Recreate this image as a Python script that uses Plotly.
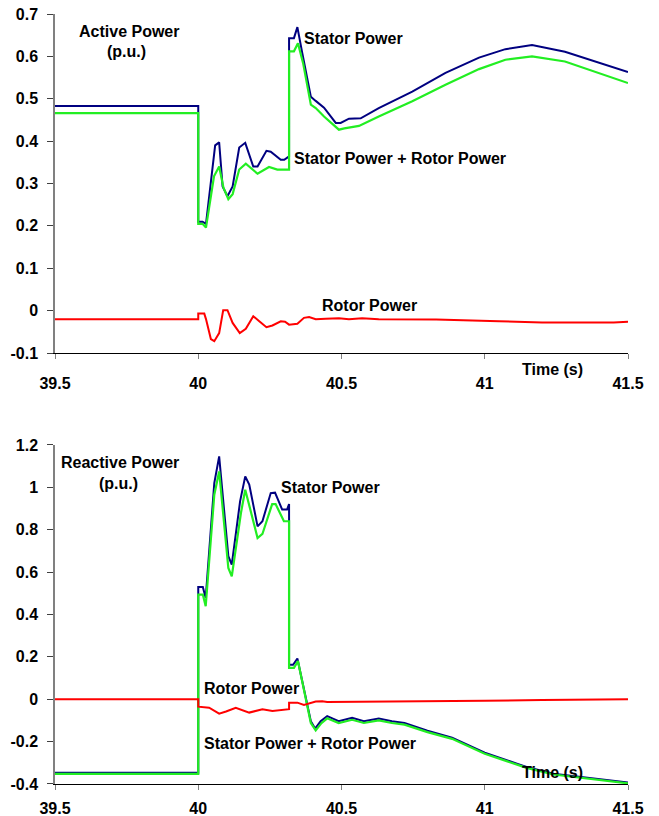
import plotly.graph_objects as go

# ---------------- data: Active power (top) ----------------
t_act_stator = [39.5, 40.0, 40.0, 40.015, 40.027, 40.059, 40.073, 40.085, 40.102, 40.12, 40.143, 40.164,
                40.192, 40.207, 40.238, 40.253, 40.288, 40.30, 40.317, 40.317, 40.334, 40.346, 40.363,
                40.393, 40.41, 40.439, 40.48, 40.497, 40.526, 40.567, 40.63, 40.747, 40.863, 40.98,
                41.072, 41.165, 41.28, 41.386, 41.5]
p_act_stator = [0.483, 0.483, 0.21, 0.21, 0.205, 0.39, 0.397, 0.293, 0.27, 0.293, 0.385, 0.396,
                0.34, 0.34, 0.377, 0.375, 0.356, 0.356, 0.364, 0.643, 0.643, 0.669, 0.608,
                0.505, 0.495, 0.479, 0.443, 0.443, 0.453, 0.454, 0.478, 0.517, 0.561, 0.597,
                0.617, 0.627, 0.611, 0.588, 0.563]

t_act_total = [39.5, 40.0, 40.0, 40.015, 40.027, 40.055, 40.073, 40.088, 40.105, 40.12, 40.143, 40.166,
               40.207, 40.247, 40.276, 40.317, 40.317, 40.334, 40.348, 40.366, 40.393, 40.41, 40.439,
               40.491, 40.51, 40.561, 40.63, 40.747, 40.863, 40.98, 41.072, 41.165, 41.28, 41.386, 41.5]
p_act_total = [0.466, 0.466, 0.205, 0.205, 0.196, 0.317, 0.34, 0.29, 0.263, 0.275, 0.333, 0.347,
               0.323, 0.339, 0.333, 0.333, 0.612, 0.612, 0.631, 0.584, 0.486, 0.478, 0.458,
               0.427, 0.43, 0.436, 0.458, 0.494, 0.533, 0.57, 0.592, 0.6, 0.588, 0.564, 0.537]

t_act_rotor = [39.5, 40.0, 40.0, 40.021, 40.027, 40.044, 40.056, 40.073, 40.087, 40.102, 40.12, 40.145,
               40.166, 40.192, 40.213, 40.238, 40.259, 40.288, 40.303, 40.317, 40.346, 40.369, 40.387,
               40.41, 40.445, 40.491, 40.526, 40.572, 40.63, 40.83, 41.05, 41.2, 41.45, 41.5]
p_act_rotor = [-0.02, -0.02, -0.007, -0.007, -0.02, -0.067, -0.072, -0.053, 0.001, 0.001, -0.029, -0.053,
               -0.043, -0.013, -0.025, -0.039, -0.035, -0.025, -0.026, -0.033, -0.031, -0.017, -0.015,
               -0.02, -0.019, -0.018, -0.02, -0.018, -0.02, -0.021, -0.025, -0.028, -0.028, -0.026]

# ---------------- data: Reactive power (bottom) ----------------
t_rea_stator = [39.5, 40.0, 40.0, 40.016, 40.026, 40.056, 40.073, 40.105, 40.117, 40.146, 40.164, 40.178,
                40.207, 40.224, 40.253, 40.268, 40.293, 40.31, 40.317, 40.317, 40.331, 40.346, 40.393,
                40.408, 40.427, 40.45, 40.49, 40.537, 40.578, 40.63, 40.676, 40.72, 40.8, 40.886,
                41.0, 41.146, 41.24, 41.356, 41.5]
q_rea_stator = [-0.347, -0.347, 0.53, 0.53, 0.478, 1.02, 1.146, 0.675, 0.635, 0.934, 1.052, 1.013,
                0.816, 0.84, 0.973, 0.975, 0.895, 0.895, 0.921, 0.163, 0.163, 0.192, -0.104,
                -0.138, -0.104, -0.08, -0.104, -0.088, -0.104, -0.091, -0.104, -0.112, -0.148, -0.181,
                -0.252, -0.32, -0.351, -0.37, -0.393]

t_rea_total = [39.5, 40.0, 40.0, 40.016, 40.026, 40.056, 40.073, 40.105, 40.117, 40.149, 40.164, 40.207,
               40.224, 40.258, 40.27, 40.299, 40.317, 40.317, 40.334, 40.348, 40.393, 40.41, 40.43,
               40.45, 40.49, 40.537, 40.578, 40.63, 40.676, 40.72, 40.8, 40.886, 41.0, 41.146,
               41.24, 41.356, 41.5]
q_rea_total = [-0.352, -0.352, 0.494, 0.494, 0.439, 0.965, 1.075, 0.62, 0.58, 0.879, 0.989, 0.761,
               0.78, 0.921, 0.921, 0.84, 0.84, 0.148, 0.148, 0.18, -0.112, -0.147, -0.113,
               -0.09, -0.112, -0.097, -0.112, -0.1, -0.112, -0.12, -0.155, -0.187, -0.257, -0.324,
               -0.355, -0.374, -0.397]

t_rea_rotor = [39.5, 40.0, 40.0, 40.038, 40.073, 40.097, 40.131, 40.178, 40.224, 40.259, 40.317, 40.317,
               40.346, 40.369, 40.41, 40.433, 40.45, 40.6, 40.77, 41.0, 41.2, 41.5]
q_rea_rotor = [0.0, 0.0, -0.035, -0.04, -0.068, -0.058, -0.04, -0.063, -0.047, -0.055, -0.047, -0.016,
               -0.016, -0.027, -0.011, -0.01, -0.013, -0.012, -0.011, -0.007, -0.004, 0.0]

# ---------------- ticks ----------------
x_ticks = [39.5, 40, 40.5, 41, 41.5]
x_tick_text = ["39.5", "40", "40.5", "41", "41.5"]
y1_ticks = [-0.1, 0, 0.1, 0.2, 0.3, 0.4, 0.5, 0.6, 0.7]
y1_tick_text = ["-0.1", "0", "0.1", "0.2", "0.3", "0.4", "0.5", "0.6", "0.7"]
y2_ticks = [-0.4, -0.2, 0, 0.2, 0.4, 0.6, 0.8, 1.0, 1.2]
y2_tick_text = ["-0.4", "-0.2", "0", "0.2", "0.4", "0.6", "0.8", "1", "1.2"]

NAVY = "#000080"
GREEN = "#22ee22"
RED = "#ff0000"
FONT = "Liberation Sans, Arial, sans-serif"

fig = go.Figure()

def add(t, v, color, xa, ya, width=2):
    fig.add_trace(go.Scatter(x=t, y=v, mode="lines", line=dict(color=color, width=width),
                             xaxis=xa, yaxis=ya, showlegend=False, hoverinfo="skip"))

add(t_act_stator, p_act_stator, NAVY, "x", "y")
add(t_act_total, p_act_total, GREEN, "x", "y", 2.2)
add(t_act_rotor, p_act_rotor, RED, "x", "y")
add(t_rea_stator, q_rea_stator, NAVY, "x2", "y2")
add(t_rea_total, q_rea_total, GREEN, "x2", "y2", 2.2)
add(t_rea_rotor, q_rea_rotor, RED, "x2", "y2")

tickfont = dict(family=FONT, size=16, color="black", weight="bold")

def xaxis(anchor, standoff):
    return dict(range=[39.5, 41.5], tickvals=x_ticks, ticktext=x_tick_text, anchor=anchor,
                showline=True, linecolor="black", linewidth=1, ticks="outside", ticklen=5,
                tickcolor="#808080", showgrid=False, zeroline=False, tickfont=tickfont,
                ticklabelstandoff=standoff, automargin=False)

def yaxis(rng, vals, text, domain, anchor):
    return dict(range=rng, tickvals=vals, ticktext=text, domain=domain, anchor=anchor,
                showline=True, linecolor="#808080", linewidth=1.5, ticks="outside", ticklen=6,
                tickcolor="#404040", showgrid=False, zeroline=False, tickfont=tickfont,
                ticklabelstandoff=6, automargin=False)

fig.update_layout(
    width=659, height=816,
    margin=dict(l=55, r=31, t=14, b=32),
    paper_bgcolor="white", plot_bgcolor="white",
    xaxis=xaxis("y", 11),
    yaxis=yaxis([-0.1, 0.7], y1_ticks, y1_tick_text, [0.5597, 1.0], "x"),
    xaxis2=xaxis("y2", 5),
    yaxis2=yaxis([-0.4, 1.2], y2_ticks, y2_tick_text, [0.0, 0.4403], "x2"),
)

annfont = dict(family=FONT, size=16, color="black", weight="bold")

def ann(text, x, y, xref, yref):
    fig.add_annotation(text=text, x=x, y=y, xref=xref, yref=yref, xanchor="left",
                       yanchor="middle", showarrow=False, font=annfont, borderpad=0)

ann("Active Power", 39.58, 0.658, "x", "y")
ann("(p.u.)", 39.678, 0.611, "x", "y")
ann("Stator Power", 40.366, 0.642, "x", "y")
ann("Stator Power + Rotor Power", 40.331, 0.358, "x", "y")
ann("Rotor Power", 40.427, 0.012, "x", "y")
ann("Time (s)", 41.125, -0.049, "x", "y domain")

ann("Reactive Power", 39.517, 1.115, "x2", "y2")
ann("(p.u.)", 39.65, 1.02, "x2", "y2")
ann("Stator Power", 40.284, 0.997, "x2", "y2")
ann("Rotor Power", 40.015, 0.049, "x2", "y2")
ann("Stator Power + Rotor Power", 40.015, -0.211, "x2", "y2")
ann("Time (s)", 41.125, -0.347, "x2", "y2")

fig.write_html("out.html", config={"displayModeBar": False},
               post_script="document.body.style.margin='0';document.body.style.overflow='hidden';")
